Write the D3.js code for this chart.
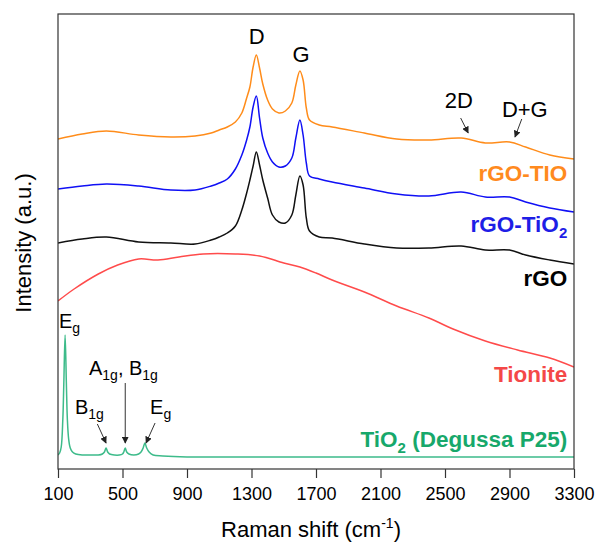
<!DOCTYPE html>
<html lang="en">
  <head>
    <meta charset="UTF-8" />
    <title>Raman spectra</title>
    <script src="https://d3js.org/d3.v7.min.js"></script>
    <style>
      body { margin: 0; background: #fff; }
      text { font-family: Arial, "Liberation Sans", sans-serif; }
    </style>
  </head>
  <body>
    <div id="chart"></div>
    <script>
      // Raman shift grid shared by the three carbon spectra (cm-1)
      const shift = [100, 250, 400, 600, 800, 950, 1050, 1100, 1150, 1200, 1240, 1270, 1290, 1310, 1330, 1350, 1370, 1400, 1430, 1470, 1510, 1550, 1575, 1600, 1620, 1640, 1660, 1720, 1800, 2000, 2200, 2400, 2600, 2750, 2900, 3000, 3150, 3300];
      const rgoTio = [330, 335, 338, 334, 332, 333, 336, 339, 342, 347, 356, 371, 382, 402, 414, 401, 385, 369, 360, 356, 358, 366, 384, 398, 389, 361, 349, 344, 342, 336, 330, 329, 331, 326, 327, 322, 314, 310];
      const rgoTio2 = [280, 283, 285, 283, 279, 279, 283, 286, 290, 300, 314, 329, 342, 362, 373, 351, 331, 316, 307, 302, 303, 311, 331, 349, 334, 306, 293, 290, 287, 281, 275, 273, 277, 272, 272, 267, 261, 257];
      const rgo = [226, 230, 232, 227, 226, 225, 229, 232, 236, 243, 259, 276, 289, 303, 317, 304, 289, 271, 254, 247, 246, 254, 274, 293, 284, 251, 238, 232, 231, 225, 221, 221, 223, 219, 219, 214, 209, 205];

      const tioniteShift = [100, 200, 350, 470, 600, 720, 850, 1000, 1200, 1350, 1500, 1600, 1700, 1800, 2000, 2200, 2400, 2550, 2750, 2950, 3150, 3300];
      const tionite = [168, 180, 195, 204, 210, 209, 212, 215, 215, 213, 206, 202, 196, 189, 177, 163, 151, 140, 128, 119, 111, 102];

      const p25Shift = [100, 110, 120, 130, 136, 144, 152, 158, 166, 176, 190, 210, 250, 300, 350, 375, 388, 398, 408, 420, 450, 480, 500, 508, 517, 526, 540, 570, 600, 615, 628, 639, 650, 665, 690, 750, 900, 1200, 3300];
      const p25 = [14, 16, 22, 50, 85, 134, 85, 50, 30, 21, 17, 15, 14, 14, 14, 15, 17, 21, 17, 15, 14, 14, 15, 17, 21, 17, 15, 14, 15, 17, 21, 26, 21, 17, 14, 13, 12, 12, 12];

      const xTicks = [100, 500, 900, 1300, 1700, 2100, 2500, 2900, 3300];

      const width = 596;
      const height = 545;
      const plotL = 58, plotR = 574, plotT = 14, plotB = 469;

      const x = d3.scaleLinear().domain([100, 3300]).range([plotL, plotR]);
      const y = d3.scaleLinear().domain([0, 455]).range([plotB, plotT]);

      const svg = d3
        .select("#chart")
        .append("svg")
        .attr("width", width)
        .attr("height", height);

      const defs = svg.append("defs");
      defs
        .append("clipPath")
        .attr("id", "plot")
        .append("rect")
        .attr("x", plotL)
        .attr("y", plotT)
        .attr("width", plotR - plotL)
        .attr("height", plotB - plotT);
      defs
        .append("marker")
        .attr("id", "head")
        .attr("viewBox", "0 0 10 10")
        .attr("refX", 9)
        .attr("refY", 5)
        .attr("markerWidth", 7)
        .attr("markerHeight", 7)
        .attr("markerUnits", "userSpaceOnUse")
        .attr("orient", "auto")
        .append("path")
        .attr("d", "M0,0 L10,5 L0,10 Z")
        .attr("fill", "#222");

      const series = [
        { xs: p25Shift, ys: p25, color: "#3dbb8a" },
        { xs: tioniteShift, ys: tionite, color: "#ff4b4b" },
        { xs: shift, ys: rgo, color: "#111" },
        { xs: shift, ys: rgoTio2, color: "#1010f5" },
        { xs: shift, ys: rgoTio, color: "#ff8c1a" },
      ];

      const line = d3
        .line()
        .x((d) => x(d[0]))
        .y((d) => y(d[1]))
        .curve(d3.curveCatmullRom.alpha(0.5));

      svg
        .append("g")
        .attr("clip-path", "url(#plot)")
        .selectAll("path")
        .data(series)
        .enter()
        .append("path")
        .attr("d", (s) => line(d3.zip(s.xs, s.ys)))
        .attr("fill", "none")
        .attr("stroke", (s) => s.color)
        .attr("stroke-width", 1.5)
        .attr("stroke-linejoin", "round");

      // frame
      svg
        .append("rect")
        .attr("x", plotL)
        .attr("y", plotT)
        .attr("width", plotR - plotL)
        .attr("height", plotB - plotT)
        .attr("fill", "none")
        .attr("stroke", "#333")
        .attr("stroke-width", 1.2);

      const xAxis = svg
        .append("g")
        .attr("transform", `translate(0,${plotB})`)
        .call(
          d3.axisBottom(x).tickValues(xTicks).tickFormat(d3.format("d")).tickSize(9).tickSizeOuter(0).tickPadding(9.5)
        );
      xAxis.select(".domain").remove();
      xAxis.selectAll(".tick line").attr("stroke", "#333").attr("stroke-width", 1.2);
      xAxis
        .selectAll(".tick text")
        .attr("fill", "#000")
        .style("font-size", "18px")
        .style("font-family", "Arial, 'Liberation Sans', sans-serif");

      // axis titles
      const xTitle = svg
        .append("text")
        .attr("x", 311)
        .attr("y", 537)
        .attr("text-anchor", "middle")
        .style("font-size", "22px");
      xTitle.append("tspan").text("Raman shift (cm");
      xTitle.append("tspan").attr("dy", -9).style("font-size", "14px").text("-1");
      xTitle.append("tspan").attr("dy", 9).text(")");

      svg
        .append("text")
        .attr("transform", "translate(31,243) rotate(-90)")
        .attr("text-anchor", "middle")
        .style("font-size", "22px")
        .text("Intensity (a.u.)");

      // series labels (right aligned inside the frame)
      const labels = [
        { parts: [["rGO-TIO", 0]], v: 288, color: "#ff8a1e" },
        { parts: [["rGO-TiO", 0], ["2", 6]], v: 237, color: "#1e1ee6" },
        { parts: [["rGO", 0]], v: 183, color: "#000" },
        { parts: [["Tionite", 0]], v: 87, color: "#f44848" },
        { parts: [["TiO", 0], ["2", 6], [" (Degussa P25)", -6]], v: 22, color: "#17a86b" },
      ];
      labels.forEach((l) => {
        const t = svg
          .append("text")
          .attr("x", x(3258))
          .attr("y", y(l.v))
          .attr("text-anchor", "end")
          .attr("fill", l.color)
          .style("font-size", "22.5px")
          .style("font-weight", "bold");
        l.parts.forEach((p) => {
          const sp = t.append("tspan").attr("dy", p[1]).text(p[0]);
          if (p[0] === "2") sp.style("font-size", "15px");
        });
      });

      // peak annotations
      const peakText = [
        { s: "D", at: [1332, 425] },
        { s: "G", at: [1608, 407] },
        { s: "2D", at: [2585, 361] },
        { s: "D+G", at: [2995, 352] },
      ];
      svg
        .selectAll(".peak")
        .data(peakText)
        .enter()
        .append("text")
        .attr("class", "peak")
        .attr("x", (d) => x(d.at[0]))
        .attr("y", (d) => y(d.at[1]))
        .attr("text-anchor", "middle")
        .style("font-size", "22px")
        .text((d) => d.s);

      // TiO2 mode labels: [main, subscript] pairs
      const modes = [
        { parts: [["E", "g"]], at: [106, 141] },
        { parts: [["B", "1g"]], at: [205, 55] },
        { parts: [["A", "1g"], [", B", "1g"]], at: [292, 94] },
        { parts: [["E", "g"]], at: [671, 55] },
      ];
      modes.forEach((m) => {
        const t = svg
          .append("text")
          .attr("x", x(m.at[0]))
          .attr("y", y(m.at[1]))
          .style("font-size", "20px");
        m.parts.forEach((p, i) => {
          t.append("tspan").attr("dy", i === 0 ? 0 : -5).text(p[0]);
          t.append("tspan").attr("dy", 5).style("font-size", "14px").text(p[1]);
        });
      });

      const arrows = [
        [2597, 351, 2644, 336],
        [2976, 350, 2934, 332],
        [344, 45, 398, 26],
        [517, 86, 517, 26],
        [702, 46, 646, 26],
      ];
      svg
        .selectAll(".arrow")
        .data(arrows)
        .enter()
        .append("line")
        .attr("class", "arrow")
        .attr("x1", (d) => x(d[0]))
        .attr("y1", (d) => y(d[1]))
        .attr("x2", (d) => x(d[2]))
        .attr("y2", (d) => y(d[3]))
        .attr("stroke", "#333")
        .attr("stroke-width", 1)
        .attr("marker-end", "url(#head)");
    </script>
  </body>
</html>
